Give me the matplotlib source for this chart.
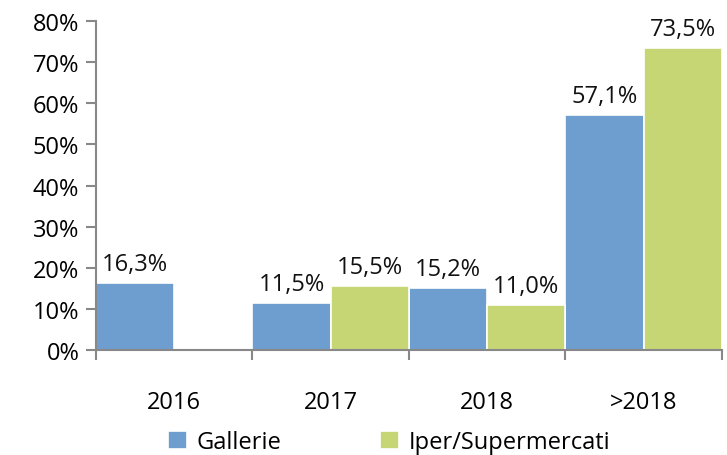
import numpy as np
import matplotlib.pyplot as plt

plt.rcParams['font.family'] = ['Open Sans', 'DejaVu Sans']

categories = ['2016', '2017', '2018', '>2018']
gallerie = [16.3, 11.5, 15.2, 57.1]
iper = [None, 15.5, 11.0, 73.5]
yticks = [0, 10, 20, 30, 40, 50, 60, 70, 80]

blue = '#6e9ecf'
green = '#c6d674'
grey = '#888888'

fig = plt.figure(figsize=(7.27, 4.56), dpi=100)
ax = fig.add_axes([0.132, 0.230, 0.861, 0.722])

x = np.arange(len(categories))
w = 0.5
g_vals = [v if v is not None else 0 for v in gallerie]
i_vals = [v if v is not None else 0 for v in iper]
bg = ax.bar(x - w / 2, g_vals, w, color=blue, edgecolor='white', linewidth=1.2, label='Gallerie')
bi = ax.bar(x + w / 2, i_vals, w, color=green, edgecolor='white', linewidth=1.2, label='Iper/Supermercati')


def fmt(v):
    return f'{v:.1f}%'.replace('.', ',')


for xs, vals in ((x - w / 2, gallerie), (x + w / 2, iper)):
    for xi, v in zip(xs, vals):
        if v is None:
            continue
        ax.annotate(fmt(v), (xi, v), xytext=(0, 5), textcoords='offset points',
                    ha='center', va='bottom', fontsize=17, color='#111111')

ax.set_ylim(0, 80)
ax.set_xlim(-0.5, len(categories) - 0.5)
ax.set_yticks(yticks)
ax.set_yticklabels([f'{t}%' for t in yticks])
ax.set_xticks(np.arange(-0.5, len(categories)), minor=False)
ax.set_xticklabels([])
ax.set_xticks(x, minor=True)
ax.set_xticklabels(categories, minor=True)
ax.tick_params(axis='x', which='minor', length=0, pad=29, labelsize=17)
ax.tick_params(axis='x', which='major', length=7, width=1.5, color=grey, direction='out')
ax.tick_params(axis='y', length=7, width=1.5, color=grey, labelsize=17, pad=5)

for s in ('top', 'right'):
    ax.spines[s].set_visible(False)
for s in ('left', 'bottom'):
    ax.spines[s].set_color(grey)
    ax.spines[s].set_linewidth(1.5)

fig.legend(handles=[bg, bi], loc='lower center', bbox_to_anchor=(0.535, -0.045), ncol=2,
           frameon=False, fontsize=17, handlelength=0.8, handleheight=0.8,
           handletextpad=0.4, columnspacing=4.2)

fig.savefig('out.png', dpi=100)
